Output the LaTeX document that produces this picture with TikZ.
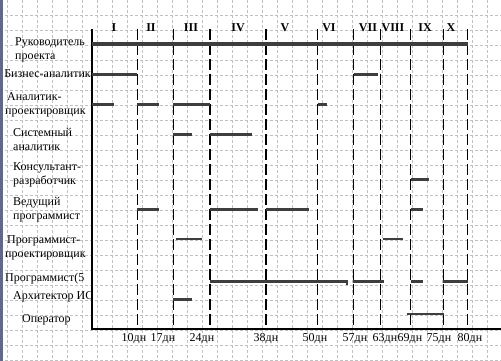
\documentclass[tikz,border=0pt]{standalone}
\usepackage{fontspec}
\setmainfont{Liberation Serif}
\usetikzlibrary{positioning}
\definecolor{gridgray}{RGB}{192,192,192}
\definecolor{bargray}{RGB}{62,62,62}
\definecolor{stripblue}{RGB}{96,106,136}

\begin{document}
\begin{tikzpicture}[x=1pt, y=-1pt,
    gridline/.style={gridgray, dash pattern=on 3pt off 2pt, line width=0.6pt},
    phase/.style={black, line width=1.3pt, dash pattern=on 11pt off 4pt},
    axis/.style={black, line width=1.2pt},
    bar/.style={bargray, line width=2.6pt},
    leadbar/.style={bargray, line width=4pt},
    role/.style={font=\fontsize{12}{14}\selectfont, align=left, inner sep=0pt},
    num/.style={font=\fontsize{12}{14}\selectfont\bfseries, inner sep=0pt},
    day/.style={font=\fontsize{12}{14}\selectfont, inner sep=0pt}
  ]
  \useasboundingbox (0,0) rectangle (501,361);
  \fill[white] (0,0) rectangle (501,361);

  % background grid
  \foreach \gx in {7.5,22.5,...,500} \draw[gridline] (\gx,0) -- (\gx,361);
  \foreach \gy in {15,30,...,360} \draw[gridline] (0,\gy) -- (501,\gy);
  \fill[stripblue] (0,0) rectangle (2.5,361);

  % axes
  \coordinate (origin) at (92,329);
  \draw[axis] (92,29) -- (origin) -- (501,329);

  % stage boundaries and day marks
  \foreach \d/\x/\lx in {10/137.3/134, 17/173.3/163, 24/210/202, 38/266/266,
                         50/317.7/315, 57/353.7/355, 63/380.3/385, 69/410.7/410,
                         75/443.7/439, 80/467.7/470} {
    \coordinate (t\d) at (\x,329);
    \draw[phase] (\x,29) -- (t\d);
    \node[day] (d\d) at (\lx,339) {\d дн};
  }

  % stage numbers
  \foreach \s/\x in {I/114, II/151, III/191, IV/238, V/285, VI/329,
                     VII/368, VIII/393, IX/425, X/451}
    \node[num] (s\s) at (\x,28) {\s};

  % roles
  \node[role, anchor=west] (lead) at (15,50) {Руководитель\\проекта};
  \node[role, anchor=east] (biz) at (91,73.5) {Бизнес-аналитик};
  \node[role, anchor=west] (analyst) at (5,104.5) {\hspace{2pt}Аналитик-\\проектировщик};
  \node[role, anchor=west] (sysan) at (13,139) {Системный\\аналитик};
  \node[role, anchor=west] (consult) at (13,175) {Консультант-\\разработчик};
  \node[role, anchor=west] (leaddev) at (13,210) {Ведущий\\программист};
  \node[role, anchor=west] (devdes) at (5,248) {\hspace{2pt}Программист-\\проектировщик};
  \node[role, anchor=west] (dev) at (5,278.3) {Программист(5};
  \node[role, anchor=west] (arch) at (13,296.7) {Архитектор ИС};
  \node[role, anchor=west] (oper) at (22,320) {Оператор};

  % workload bars
  \draw[leadbar] (92,44) -- (467.7,44);
  \draw[bar] (92,74.7) -- (137.3,74.7);
  \draw[bar] (353.7,74.7) -- (378.3,74.7);
  \draw[bar] (92,104.3) -- (114.3,104.3);
  \draw[bar] (137.3,104.3) -- (159.3,104.3);
  \draw[bar] (173.3,104.3) -- (210,104.3);
  \draw[bar] (317.7,104.3) -- (327.3,104.3);
  \draw[bar] (173.3,134.7) -- (192.3,134.7);
  \draw[bar] (210,134.7) -- (252,134.7);
  \draw[bar] (410.7,179.7) -- (429,179.7);
  \draw[bar] (137.3,209.3) -- (159.3,209.3);
  \draw[bar] (210,209.3) -- (258.3,209.3);
  \draw[bar] (266,209.3) -- (309.3,209.3);
  \draw[bar] (410.7,209.3) -- (423.3,209.3);
  \draw[bar] (175.7,239) -- (201.7,239);
  \draw[bar] (382.7,239) -- (402.7,239);
  \draw[bar] (210,281.7) -- (347,281.7) -- (347,284.5);
  \draw[bar] (353,281.7) -- (384.3,281.7);
  \draw[bar] (410.7,281.7) -- (423.3,281.7);
  \draw[bar] (443.3,281.7) -- (468.3,281.7);
  \draw[bar] (173.3,299.3) -- (192.3,299.3);
  \draw[bar] (406.7,314) -- (444,314);
\end{tikzpicture}
\end{document}
